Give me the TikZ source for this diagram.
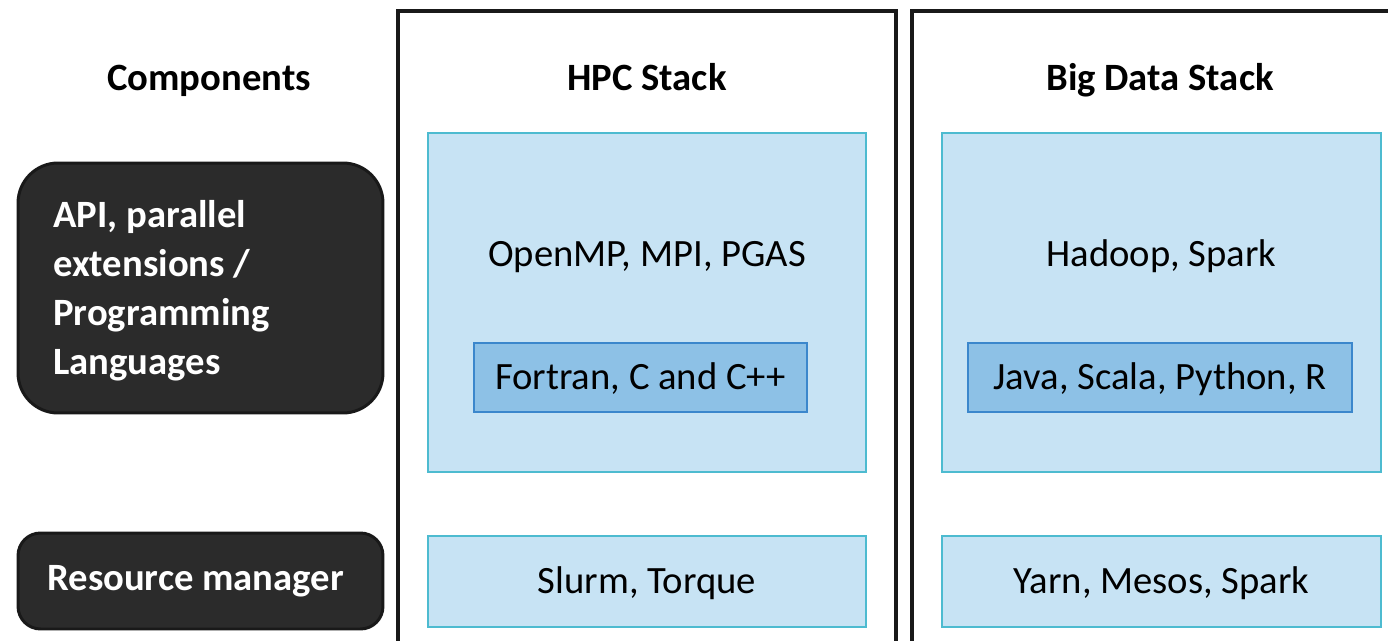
\documentclass[tikz,border=0pt]{standalone}
\usepackage{fontspec}
\setmainfont{Carlito}
\usepackage{tikz}

\definecolor{lightfill}{HTML}{C7E3F4}
\definecolor{lightline}{HTML}{4DBBD0}
\definecolor{innerfill}{HTML}{8DC1E6}
\definecolor{innerline}{HTML}{3B87CC}
\definecolor{darkfill}{HTML}{2B2B2B}

\begin{document}
\begin{tikzpicture}[x=0.02cm, y=-0.02cm,
    font=\fontsize{22pt}{28pt}\selectfont,
    title/.style={anchor=base, font=\fontsize{22pt}{28pt}\selectfont\bfseries},
    layerbox/.style={draw=lightline, fill=lightfill, line width=1.1pt, inner sep=0pt,
        text height=14pt, text depth=0pt},
    langbox/.style={draw=innerline, fill=innerfill, line width=1.1pt, inner sep=0pt,
        text height=14pt, text depth=0pt},
    darkbox/.style={draw=black!90, fill=darkfill, line width=1.7pt, rounded corners=0.8cm,
        minimum width=7.3cm},
    darktext/.style={anchor=west, inner sep=0pt, text=white, align=left,
        font=\fontsize{22pt}{27.9pt}\selectfont\bfseries},
    frame/.style={line width=2.3pt, black!90}]
    \useasboundingbox (0, 0) rectangle (1388, 641);

    % the two stacks
    \draw[frame] (398, 641) -- (398, 11) -- (896, 11) -- (896, 641);
    \draw[frame] (912, 641) -- (912, 11) -- (1388, 11);

    % titles
    \node[title] (compTitle) at (209, 91) {Components};
    \node[title] (hpcTitle) at (647, 91) {HPC Stack};
    \node[title] (bdTitle) at (1160, 91) {Big Data Stack};

    % components
    \node[darkbox, minimum height=5cm] (apiBox) at (200.5, 288) {};
    \node[darktext] (apiText) at (53, 291) {API, parallel\\extensions /\\Programming\\Languages};
    \node[darkbox, minimum height=1.92cm, rounded corners=0.45cm] (rmBox) at (200.5, 581) {};
    \node[darktext] (rmText) at (47, 581) {Resource manager};

    % HPC stack
    \node[layerbox, minimum width=8.76cm, minimum height=6.78cm] (hpcApi) at (647, 302.5) {};
    \node[anchor=base] (hpcApiText) at (647, 267) {OpenMP, MPI, PGAS};
    \node[langbox, minimum width=6.66cm, minimum height=1.38cm] (hpcLang) at (640.5, 377.5) {Fortran, C and C++};
    \node[layerbox, minimum width=8.76cm, minimum height=1.82cm] (hpcRm) at (647, 581.5) {Slurm, Torque};

    % Big Data stack
    \node[layerbox, minimum width=8.78cm, minimum height=6.78cm] (bdApi) at (1161.5, 302.5) {};
    \node[anchor=base] (bdApiText) at (1161.5, 267) {Hadoop, Spark};
    \node[langbox, minimum width=7.68cm, minimum height=1.38cm] (bdLang) at (1160, 377.5) {Java, Scala, Python, R};
    \node[layerbox, minimum width=8.78cm, minimum height=1.82cm] (bdRm) at (1161.5, 581.5) {Yarn, Mesos, Spark};
\end{tikzpicture}
\end{document}
